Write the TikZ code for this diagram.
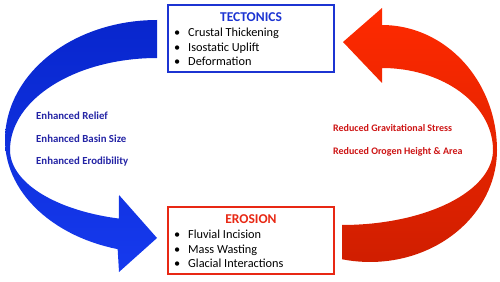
\documentclass[tikz,border=0pt]{standalone}
\usepackage{fontspec}
\setmainfont{Carlito}
\usetikzlibrary{positioning}

\definecolor{tecblue}{RGB}{28,52,210}
\definecolor{erored}{RGB}{232,40,20}
\definecolor{bluetext}{RGB}{36,36,165}
\definecolor{redtext}{RGB}{205,20,20}

\begin{document}
\begin{tikzpicture}[x=1pt, y=1pt,
        tbox/.style={rectangle, line width=2.2pt, fill=white, minimum width=166pt, minimum height=67pt},
        heading/.style={font=\fontsize{13.5}{15}\selectfont\bfseries, inner sep=0pt},
        items/.style={font=\fontsize{12.3}{14.5}\selectfont, align=left, inner sep=0pt, anchor=west},
        effect/.style={font=\fontsize{10.8}{12}\selectfont\bfseries, inner sep=0pt, anchor=west},
        blueflow/.style={top color={rgb,255:red,8;green,38;blue,205}, bottom color={rgb,255:red,22;green,58;blue,238}},
        redflow/.style={top color={rgb,255:red,255;green,42;blue,0}, bottom color={rgb,255:red,208;green,30;blue,0}}]
    \useasboundingbox (0,0) rectangle (500,281);

    % blue arrow: tectonics -> erosion
    \shade[blueflow] plot[domain=90:180, samples=40] ({157+152*cos(\x)},{141+120*sin(\x)})
        -- plot[domain=180:255, samples=30] ({157+152*cos(\x)},{141+113*sin(\x)})
        -- (119,9) -- (157,43) -- (119,86)
        -- plot[domain=255:180, samples=30] ({157+147*cos(\x)},{131+71*sin(\x)})
        -- plot[domain=180:90, samples=40] ({157+147*cos(\x)},{131+92*sin(\x)}) -- cycle;

    % red arrow: erosion -> tectonics
    \shade[redflow] plot[domain=90:0, samples=40] ({382+115*cos(\x)},{131+125*sin(\x)})
        -- plot[domain=0:-102.7, samples=40] ({370+127*cos(\x)},{131+112*sin(\x)})
        -- (342,56)
        -- plot[domain=-90:0, samples=40] ({342+151*cos(\x)},{131+75*sin(\x)})
        -- plot[domain=0:90, samples=40] ({382+111*cos(\x)},{131+82*sin(\x)})
        -- (382,198) -- (343,239) -- (382,273) -- cycle;

    \node[tbox, draw=tecblue] (tect) at (251,242.5) {};
    \node[heading, text=tecblue] (tecthead) at (251,264) {TECTONICS};
    \node[items] (tectlist) at (174,234) {%
        \makebox[14pt][l]{\textbullet}Crustal Thickening\\
        \makebox[14pt][l]{\textbullet}Isostatic Uplift\\
        \makebox[14pt][l]{\textbullet}Deformation};

    \node[tbox, draw=erored] (eros) at (251,40.5) {};
    \node[heading, text=erored] (eroshead) at (251,62) {EROSION};
    \node[items] (eroslist) at (174,32) {%
        \makebox[14pt][l]{\textbullet}Fluvial Incision\\
        \makebox[14pt][l]{\textbullet}Mass Wasting\\
        \makebox[14pt][l]{\textbullet}Glacial Interactions};

    \node[effect, text=bluetext] (relief) at (36,165) {Enhanced Relief};
    \node[effect, text=bluetext, below=23pt of relief.west, anchor=west] (basin) {Enhanced Basin Size};
    \node[effect, text=bluetext, below=23pt of basin.west, anchor=west] (erodib) {Enhanced Erodibility};

    \node[effect, text=redtext, font=\fontsize{10}{12}\selectfont\bfseries] (stress) at (333,153) {Reduced Gravitational Stress};
    \node[effect, text=redtext, font=\fontsize{10}{12}\selectfont\bfseries, below=24pt of stress.west, anchor=west] (orogen) {Reduced Orogen Height \& Area};
\end{tikzpicture}
\end{document}
